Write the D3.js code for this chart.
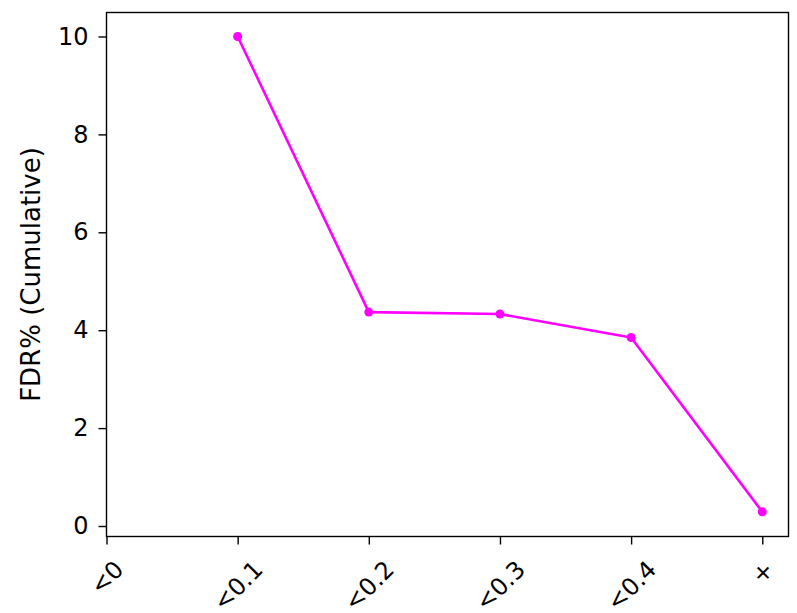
<!DOCTYPE html>
<html><head><meta charset="utf-8">
<script src="https://cdn.jsdelivr.net/npm/d3@7"></script>
<style>body{margin:0;background:#fff}svg{display:block}text{font-family:"DejaVu Sans",sans-serif;fill:#000}</style>
</head><body>
<svg id="c" width="797" height="613"></svg>
<script>
const categories = ["<0", "<0.1", "<0.2", "<0.3", "<0.4", "+"];
const pointCats = ["<0.1", "<0.2", "<0.3", "<0.4", "+"];
const fdrValues = [10.0, 4.37, 4.33, 3.85, 0.29];
const yTicks = [0, 2, 4, 6, 8, 10];
const yLabel = "FDR% (Cumulative)";

const svg = d3.select("#c");
const L = 106.5, R = 788.5, T = 12.5, B = 536.5;
const x = d3.scaleLinear().domain([0, 5.2]).range([L, R]);
const y = d3.scaleLinear().domain([-0.2143, 10.49]).range([B, T]);
const xi = c => x(categories.indexOf(c));

const fs = 24;
const xAxis = d3.axisBottom(x).tickValues(d3.range(categories.length)).tickFormat(i => categories[i]).tickSize(8).tickPadding(5);
const gx = svg.append("g").attr("transform", `translate(0,${B})`).call(xAxis);
gx.select(".domain").remove();
gx.selectAll("line").attr("stroke", "#000").attr("stroke-width", 1.4);
gx.selectAll("text").style("font-size", fs + "px")
  .attr("text-anchor", "middle").attr("dy", null).attr("y", null)
  .attr("dominant-baseline", "central")
  .attr("transform", function(d){
    const w = this.getComputedTextLength();
    const h = fs * 1.16;
    const half = (w + h) * Math.SQRT1_2 / 2;
    return `translate(0,${19 + half}) rotate(-45)`;
  });

const yAxis = d3.axisLeft(y).tickValues(yTicks).tickSize(8).tickPadding(10);
const gy = svg.append("g").attr("transform", `translate(${L},0)`).call(yAxis);
gy.select(".domain").remove();
gy.selectAll("line").attr("stroke", "#000").attr("stroke-width", 1.4);
gy.selectAll("text").style("font-size", fs + "px");

svg.append("rect").attr("x", L).attr("y", T).attr("width", R - L).attr("height", B - T)
  .attr("fill", "none").attr("stroke", "#000").attr("stroke-width", 1.4);

svg.append("text").attr("transform", `translate(31,${(T + B) / 2}) rotate(-90)`)
  .attr("text-anchor", "middle").attr("dominant-baseline", "central")
  .style("font-size", "26px").text(yLabel);

const pts = pointCats.map((c, i) => [xi(c), y(fdrValues[i])]);
svg.append("path").attr("d", d3.line()(pts)).attr("fill", "none")
  .attr("stroke", "#ff00ff").attr("stroke-width", 2.6).attr("stroke-linejoin", "round");
svg.selectAll("circle.p").data(pts).join("circle").attr("class", "p")
  .attr("cx", d => d[0]).attr("cy", d => d[1]).attr("r", 4.5).attr("fill", "#ff00ff");
</script>
</body></html>
